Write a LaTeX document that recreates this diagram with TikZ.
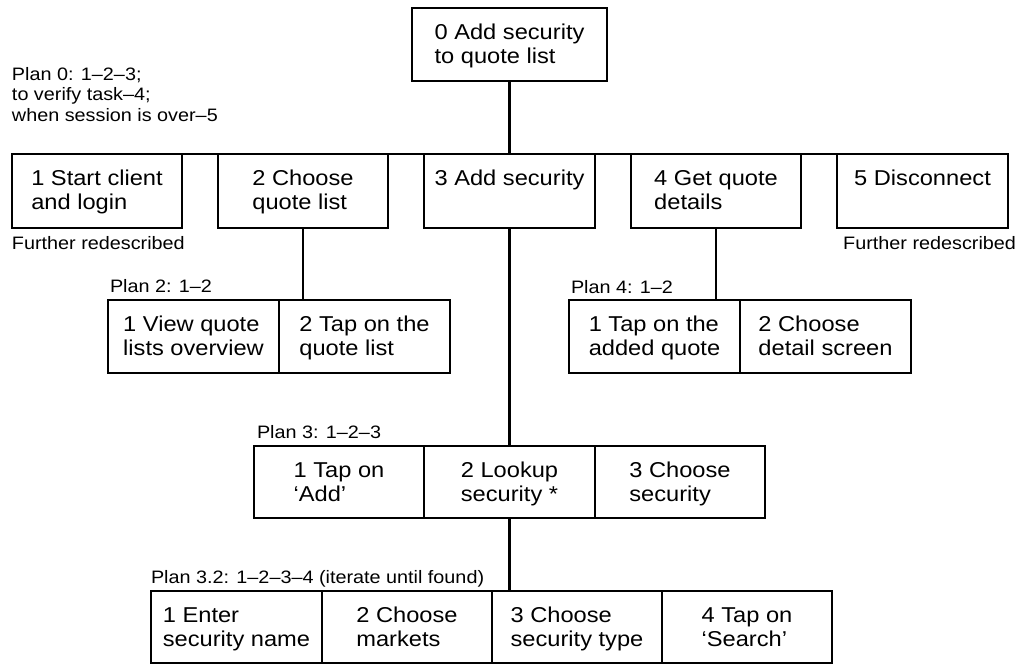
\documentclass[tikz,border=0pt]{standalone}
\usepackage{fontspec}
\setmainfont{Liberation Sans}[FakeStretch=1.1]
\tikzset{
  boxnode/.style={draw=black,line width=1.5pt,inner sep=0pt,outer sep=0pt,anchor=north west},
  btext/.style={inner sep=0pt,outer sep=0pt,align=left,anchor=north,font=\fontsize{21.5}{24}\selectfont},
  lbl/.style={inner sep=0pt,outer sep=0pt,font=\fontsize{18}{20.5}\selectfont},
  treeline/.style={draw=black,line width=2.1pt}}
\begin{document}
\begin{tikzpicture}[x=1pt,y=-1pt]
\useasboundingbox (0,0) rectangle (1024,664);
\newcommand\taskbox[6]{%
  \node[boxnode,minimum width={#4pt-#2pt},minimum height={#5pt-#3pt}] (#1) at (#2,#3) {};
  \node[btext] (#1t) at ([yshift=-14pt]#1.north) {\rule{0pt}{17pt}#6};}
% top
\taskbox{t0}{412}{8}{607}{81}{0 Add security\\to quote list}
% row 1
\taskbox{b1}{12}{154}{182}{228}{1 Start client\\and login}
\taskbox{b2}{218}{154}{388}{228}{2 Choose\\quote list}
\taskbox{b3}{424}{154}{595}{228}{3 Add security}
\taskbox{b4}{631}{154}{801}{228}{4 Get quote\\details}
\taskbox{b5}{837}{154}{1008}{228}{5 Disconnect}
% plan 2
\taskbox{c1}{108}{300}{279}{373}{1 View quote\\lists overview}
\taskbox{c2}{279}{300}{450}{373}{2 Tap on the\\quote list}
% plan 4
\taskbox{d1}{569}{300}{740}{373}{1 Tap on the\\added quote}
\taskbox{d2}{740}{300}{911}{373}{2 Choose\\detail screen}
% plan 3
\taskbox{e1}{254}{446}{424}{518}{1 Tap on\\‘Add’}
\taskbox{e2}{424}{446}{595}{518}{2 Lookup\\security *}
\taskbox{e3}{595}{446}{765}{518}{3 Choose\\security}
% plan 3.2
\taskbox{f1}{151}{591}{322}{663}{1 Enter\\security name}
\taskbox{f2}{322}{591}{492}{663}{2 Choose\\markets}
\taskbox{f3}{492}{591}{662}{663}{3 Choose\\security type}
\taskbox{f4}{662}{591}{832}{663}{4 Tap on\\‘Search’}
% labels
\node[lbl,align=left,anchor=north west] (p0) at (12,66) {\rule{0pt}{14pt}Plan 0: 1–2–3;\\to verify task–4;\\when session is over–5};
\node[lbl,anchor=base west] (fr1) at (12,249) {Further redescribed};
\node[lbl,anchor=base east] (fr5) at (1016,249) {Further redescribed};
\node[lbl,anchor=base west] (p2) at (110,292) {Plan 2: 1–2};
\node[lbl,anchor=base west] (p4) at (571,293) {Plan 4: 1–2};
\node[lbl,anchor=base west] (p3) at (257,438) {Plan 3: 1–2–3};
\node[lbl,anchor=base west] (p32) at (151,583) {Plan 3.2: 1–2–3–4 (iterate until found)};
% connectors
\draw[treeline,line cap=rect] (b1.north west) -- (b5.north east);
\draw[treeline] (t0.south) -- (t0.south |- b3.north);
\draw[treeline] (b2.south) -- (b2.south |- c2.north);
\draw[treeline] (b4.south) -- (b4.south |- d1.north);
\draw[treeline] (b3.south) -- (b3.south |- e2.north);
\draw[treeline] (e2.south) -- (e2.south |- f3.north);
\end{tikzpicture}
\end{document}
